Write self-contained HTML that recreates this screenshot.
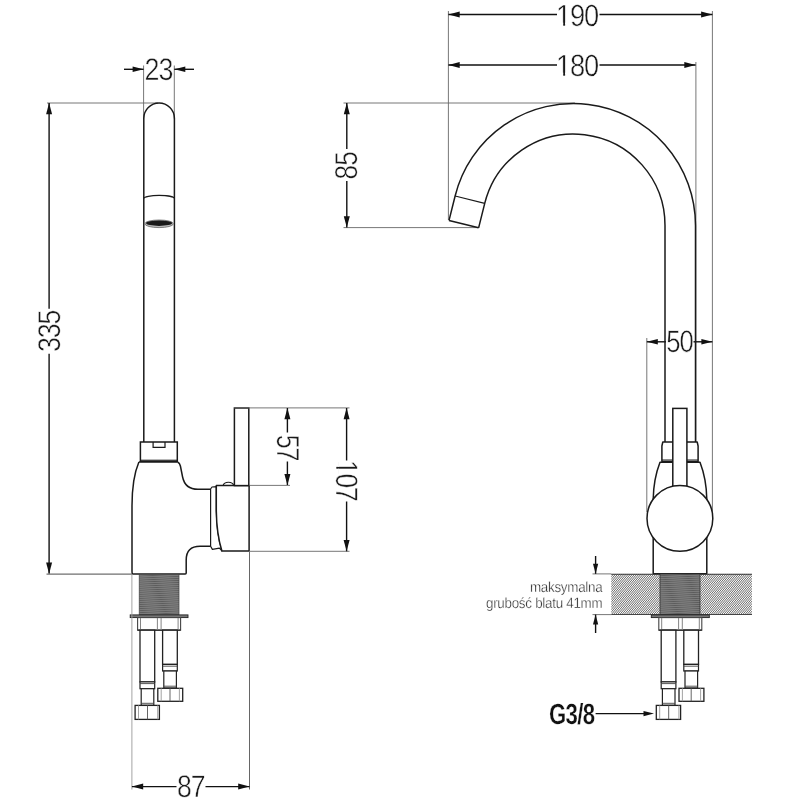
<!DOCTYPE html><html><head><meta charset="utf-8"><title>Wymiary baterii</title>
<style>html,body{margin:0;padding:0;background:#fff}svg{display:block;will-change:transform}text{font-family:"Liberation Sans",sans-serif;text-rendering:geometricPrecision}</style></head><body>
<svg width="800" height="800" viewBox="0 0 800 800">
<defs>
<pattern id="thr" width="40" height="2.03" patternUnits="userSpaceOnUse" patternTransform="rotate(-2.5)"><rect width="40" height="2.03" fill="#868686"/><line x1="0" y1="1" x2="40" y2="1" stroke="#5c5c5c" stroke-width="1"/></pattern>
</defs>
<rect width="800" height="800" fill="#fff"/>
<line x1="47" y1="103" x2="158" y2="103" stroke="#686868" stroke-width="0.9"/>
<line x1="46.5" y1="574.1" x2="132" y2="574.1" stroke="#4a4a4a" stroke-width="1.0"/>
<line x1="143.6" y1="65.5" x2="143.6" y2="119" stroke="#686868" stroke-width="0.9"/>
<line x1="174.3" y1="65.5" x2="174.3" y2="119" stroke="#686868" stroke-width="0.9"/>
<line x1="124" y1="69.3" x2="143.6" y2="69.3" stroke="#111" stroke-width="1.4"/>
<polygon points="143.60,69.30 132.60,72.05 132.60,66.55" fill="#111"/>
<line x1="174.3" y1="69.3" x2="194" y2="69.3" stroke="#111" stroke-width="1.4"/>
<polygon points="174.30,69.30 185.30,66.55 185.30,72.05" fill="#111"/>
<g transform="translate(144.60,79.94) rotate(0) scale(0.8662,1)">
<text font-size="31.07" font-weight="normal" fill="#1a1a1a" letter-spacing="-1.3" stroke="#fff" stroke-width="0.5">23</text>
</g>
<line x1="49.1" y1="103" x2="49.1" y2="308.8" stroke="#111" stroke-width="1.4"/>
<line x1="49.1" y1="353.8" x2="49.1" y2="573.6" stroke="#111" stroke-width="1.4"/>
<polygon points="49.10,103.00 52.10,114.30 46.10,114.30" fill="#111"/>
<polygon points="49.10,573.80 46.10,562.50 52.10,562.50" fill="#111"/>
<g transform="translate(59.94,352.02) rotate(-90) scale(0.8503,1)">
<text font-size="31.43" font-weight="normal" fill="#1a1a1a" letter-spacing="-1.3" stroke="#fff" stroke-width="0.5">335</text>
</g>
<path d="M143.8,442 V118.3 A15.3,15.3 0 0 1 174.4,118.3 V442" stroke="#1a1a1a" stroke-width="1.5" fill="none" />
<path d="M143.8,198.6 A15.3,3.2 0 0 1 174.4,198.6" stroke="#1a1a1a" stroke-width="1.2" fill="none" />
<ellipse cx="159.1" cy="223.8" rx="14.3" ry="3.8" fill="#bbb" stroke="#666" stroke-width="0.8"/>
<ellipse cx="159.1" cy="223.2" rx="13" ry="2.7" fill="#1a1a1a"/>
<rect x="140.4" y="442" width="36.9" height="19.3" stroke="#1a1a1a" stroke-width="1.5" fill="#fff"/>
<line x1="140.4" y1="460.2" x2="177.3" y2="460.2" stroke="#1a1a1a" stroke-width="1.0"/>
<path d="M153.1,442 V447.3 H165 V442" stroke="#1a1a1a" stroke-width="1.2" fill="none" />
<path d="M138.9,462 C135.5,470 132,484 132,506 V571.3 Q132,574 133,574 H185.2 Q186.2,574 186.2,573 V560 C186.2,551 191,546.2 200,546.2 H210.6 M210.6,489.3 H198 C188,489.3 184,484 182.6,477 L180.4,466 Q179.8,463 177.5,462" stroke="#1a1a1a" stroke-width="1.5" fill="none" stroke-linejoin="round"/>
<line x1="138.9" y1="462" x2="177.5" y2="462" stroke="#1a1a1a" stroke-width="1.5"/>
<path d="M210.6,489 L212,487 L216.3,486.6 V511 C216.5,528 218.5,540 221.9,550.8 L219.4,548.2 L212.4,549.4 L210.6,546.2 Z" stroke="#1a1a1a" stroke-width="1.2" fill="#fff" stroke-linejoin="round"/>
<path d="M216.3,485.6 H249.1 V551 H221.9 C218.5,540 216.5,528 216.3,511 Z" stroke="#1a1a1a" stroke-width="1.5" fill="#fff" stroke-linejoin="round"/>
<rect x="234.4" y="408" width="14.4" height="77.6" stroke="#1a1a1a" stroke-width="1.5" fill="#fff"/>
<path d="M223,485.6 Q224,482.3 228.4,482.3 Q232.8,482.3 233.8,485.6" stroke="#1a1a1a" stroke-width="1.1" fill="none" />
<rect x="139.2" y="574.4" width="39.8" height="40.4" stroke="#444" stroke-width="0.7" fill="url(#thr)"/>
<rect x="130.2" y="614.9" width="57.8" height="2.7" stroke="#222" stroke-width="0.9" fill="#777"/>
<rect x="137.6" y="617.6" width="43" height="12.6" stroke="#444" stroke-width="1.1" fill="#fff"/>
<line x1="137.6" y1="630.2" x2="180.6" y2="630.2" stroke="#222" stroke-width="1.2"/>
<line x1="140.5" y1="618" x2="140.5" y2="630" stroke="#777" stroke-width="0.9"/>
<line x1="157.4" y1="618" x2="157.4" y2="630" stroke="#777" stroke-width="0.9"/>
<line x1="161.1" y1="618" x2="161.1" y2="630" stroke="#777" stroke-width="0.9"/>
<line x1="178.1" y1="618" x2="178.1" y2="630" stroke="#777" stroke-width="0.9"/>
<rect x="140" y="630.2" width="14.7" height="51.7" stroke="#222" stroke-width="1.3" fill="#fff"/>
<rect x="140" y="681.9" width="14.7" height="6.8" stroke="#222" stroke-width="1.2" fill="#fff"/>
<line x1="140" y1="683.6" x2="154.7" y2="683.6" stroke="#444" stroke-width="0.9"/>
<rect x="141.2" y="688.7" width="12.6" height="16.6" stroke="#222" stroke-width="1.2" fill="#fff"/>
<line x1="141.2" y1="703.3" x2="153.8" y2="703.3" stroke="#444" stroke-width="0.9"/>
<rect x="135.1" y="705.4" width="24.3" height="14" stroke="#222" stroke-width="1.3" fill="#fff"/>
<line x1="147.5" y1="705.4" x2="147.5" y2="719.4" stroke="#555" stroke-width="0.9"/>
<line x1="138.5" y1="705.4" x2="138.5" y2="719.4" stroke="#999" stroke-width="0.9"/>
<line x1="157.7" y1="705.4" x2="157.7" y2="719.4" stroke="#999" stroke-width="0.9"/>
<rect x="162.6" y="630.2" width="14.7" height="34.2" stroke="#222" stroke-width="1.3" fill="#fff"/>
<rect x="162.6" y="664.4" width="14.7" height="6.6" stroke="#222" stroke-width="1.2" fill="#fff"/>
<line x1="162.6" y1="666.2" x2="177.3" y2="666.2" stroke="#444" stroke-width="0.9"/>
<rect x="163.8" y="671" width="12.6" height="17" stroke="#222" stroke-width="1.2" fill="#fff"/>
<line x1="163.8" y1="686.2" x2="176.4" y2="686.2" stroke="#444" stroke-width="0.9"/>
<rect x="157.8" y="688.3" width="24.9" height="13" stroke="#222" stroke-width="1.3" fill="#fff"/>
<line x1="170" y1="688.3" x2="170" y2="701.3" stroke="#555" stroke-width="0.9"/>
<line x1="161.2" y1="688.3" x2="161.2" y2="701.3" stroke="#999" stroke-width="0.9"/>
<line x1="179.4" y1="688.3" x2="179.4" y2="701.3" stroke="#999" stroke-width="0.9"/>
<line x1="131.9" y1="575" x2="131.9" y2="789.5" stroke="#999" stroke-width="0.9"/>
<line x1="249.5" y1="551.7" x2="249.5" y2="789.5" stroke="#555" stroke-width="0.9"/>
<line x1="131.9" y1="786.6" x2="176.5" y2="786.6" stroke="#111" stroke-width="1.4"/>
<line x1="205.5" y1="786.6" x2="249.5" y2="786.6" stroke="#111" stroke-width="1.4"/>
<polygon points="131.90,786.60 143.20,783.60 143.20,789.60" fill="#111"/>
<polygon points="249.50,786.60 238.20,789.60 238.20,783.60" fill="#111"/>
<g transform="translate(177.11,796.94) rotate(0) scale(0.8563,1)">
<text font-size="31.07" font-weight="normal" fill="#1a1a1a" letter-spacing="-1.3" stroke="#fff" stroke-width="0.5">87</text>
</g>
<line x1="234" y1="407.9" x2="349.5" y2="407.9" stroke="#686868" stroke-width="0.9"/>
<line x1="249.2" y1="485.4" x2="290" y2="485.4" stroke="#686868" stroke-width="0.9"/>
<line x1="249.2" y1="551.3" x2="349.5" y2="551.3" stroke="#686868" stroke-width="0.9"/>
<line x1="287.4" y1="408" x2="287.4" y2="432.5" stroke="#111" stroke-width="1.4"/>
<line x1="287.4" y1="461.5" x2="287.4" y2="485" stroke="#111" stroke-width="1.4"/>
<polygon points="287.40,408.00 290.40,419.30 284.40,419.30" fill="#111"/>
<polygon points="287.40,485.30 284.40,474.00 290.40,474.00" fill="#111"/>
<g transform="translate(277.07,434.75) rotate(90) scale(0.7851,1)">
<text font-size="31.81" font-weight="normal" fill="#1a1a1a" letter-spacing="-1.3" stroke="#fff" stroke-width="0.5">57</text>
</g>
<line x1="346.6" y1="408" x2="346.6" y2="460.5" stroke="#111" stroke-width="1.4"/>
<line x1="346.6" y1="501.5" x2="346.6" y2="551.3" stroke="#111" stroke-width="1.4"/>
<polygon points="346.60,408.00 349.60,419.30 343.60,419.30" fill="#111"/>
<polygon points="346.60,551.30 343.60,540.00 349.60,540.00" fill="#111"/>
<g transform="translate(335.81,460.00) rotate(90) scale(0.8505,1)">
<text font-size="31.00" font-weight="normal" fill="#1a1a1a" letter-spacing="-1.3" stroke="#fff" stroke-width="0.5">107</text>
<rect x="1.36" y="-2.92" width="6.73" height="3.72" fill="#fff"/>
<rect x="10.24" y="-2.92" width="6.49" height="3.72" fill="#fff"/>
</g>
<line x1="448.4" y1="11" x2="448.4" y2="220" stroke="#686868" stroke-width="0.9"/>
<line x1="712.4" y1="11" x2="712.4" y2="512" stroke="#686868" stroke-width="0.9"/>
<line x1="695.9" y1="62" x2="695.9" y2="442" stroke="#686868" stroke-width="0.9"/>
<line x1="343.5" y1="103" x2="575" y2="103" stroke="#686868" stroke-width="0.9"/>
<line x1="343.5" y1="227.6" x2="478" y2="227.6" stroke="#686868" stroke-width="0.9"/>
<line x1="646.8" y1="338" x2="646.8" y2="512" stroke="#686868" stroke-width="0.9"/>
<line x1="448.4" y1="14.5" x2="557" y2="14.5" stroke="#111" stroke-width="1.4"/>
<line x1="599.5" y1="14.5" x2="712.4" y2="14.5" stroke="#111" stroke-width="1.4"/>
<polygon points="448.40,14.50 459.70,11.50 459.70,17.50" fill="#111"/>
<polygon points="712.40,14.50 701.10,17.50 701.10,11.50" fill="#111"/>
<g transform="translate(556.08,25.54) rotate(0) scale(0.8905,1)">
<text font-size="30.65" font-weight="normal" fill="#1a1a1a" letter-spacing="-1.3" stroke="#fff" stroke-width="0.5">190</text>
<rect x="1.33" y="-2.89" width="6.65" height="3.69" fill="#fff"/>
<rect x="10.14" y="-2.89" width="6.41" height="3.69" fill="#fff"/>
</g>
<line x1="448.4" y1="65" x2="557" y2="65" stroke="#111" stroke-width="1.4"/>
<line x1="599.5" y1="65" x2="695.6" y2="65" stroke="#111" stroke-width="1.4"/>
<polygon points="448.40,65.00 459.70,62.00 459.70,68.00" fill="#111"/>
<polygon points="695.60,65.00 684.30,68.00 684.30,62.00" fill="#111"/>
<g transform="translate(556.08,75.54) rotate(0) scale(0.8905,1)">
<text font-size="30.65" font-weight="normal" fill="#1a1a1a" letter-spacing="-1.3" stroke="#fff" stroke-width="0.5">180</text>
<rect x="1.33" y="-2.89" width="6.65" height="3.69" fill="#fff"/>
<rect x="10.14" y="-2.89" width="6.41" height="3.69" fill="#fff"/>
</g>
<line x1="346.8" y1="103" x2="346.8" y2="149" stroke="#111" stroke-width="1.4"/>
<line x1="346.8" y1="181" x2="346.8" y2="227.6" stroke="#111" stroke-width="1.4"/>
<polygon points="346.80,103.00 349.80,114.30 343.80,114.30" fill="#111"/>
<polygon points="346.80,227.60 343.80,216.30 349.80,216.30" fill="#111"/>
<g transform="translate(357.23,179.38) rotate(-90) scale(0.8327,1)">
<text font-size="31.64" font-weight="normal" fill="#1a1a1a" letter-spacing="-1.3" stroke="#fff" stroke-width="0.5">85</text>
</g>
<line x1="646.8" y1="341.8" x2="666" y2="341.8" stroke="#111" stroke-width="1.4"/>
<line x1="693.5" y1="341.8" x2="712.4" y2="341.8" stroke="#111" stroke-width="1.4"/>
<polygon points="646.80,341.80 657.80,339.05 657.80,344.55" fill="#111"/>
<polygon points="712.40,341.80 701.40,344.55 701.40,339.05" fill="#111"/>
<path d="M449.03,220.44 L455.12,195.99 A122,122 0 0 1 695.5,225.5 V442" stroke="#1a1a1a" stroke-width="1.5" fill="none" />
<path d="M478.62,227.82 L484.72,203.36 A91.5,91.5 0 0 1 665.0,225.5 V442" stroke="#1a1a1a" stroke-width="1.5" fill="none" />
<line x1="455.1239213943284" y1="195.98552873684056" x2="484.71794104574633" y2="203.36414655263042" stroke="#1a1a1a" stroke-width="1.1"/>
<line x1="449.0274896252168" y1="220.43698103899567" x2="478.6215092766347" y2="227.81559885478552" stroke="#1a1a1a" stroke-width="1.5"/>
<g transform="translate(666.22,351.94) rotate(0) scale(0.8271,1)">
<text font-size="31.07" font-weight="normal" fill="#1a1a1a" letter-spacing="-1.3" stroke="#fff" stroke-width="0.5">50</text>
</g>
<path d="M662.8,442 H697.2 L698.1,446 V461.4 H661.9 V446 Z" stroke="#1a1a1a" stroke-width="1.5" fill="#fff" stroke-linejoin="round"/>
<line x1="661.9" y1="460" x2="698.1" y2="460" stroke="#1a1a1a" stroke-width="1.0"/>
<path d="M660,462.2 C657,470 653.5,482 653.2,499 V573.7 H706.8 V499 C706.5,482 703,470 700,462.2 Z" stroke="#1a1a1a" stroke-width="1.5" fill="#fff" stroke-linejoin="round"/>
<rect x="672.8" y="408.4" width="14.1" height="82" stroke="#1a1a1a" stroke-width="1.5" fill="#fff"/>
<circle cx="679.9" cy="518.4" r="32.9" fill="#fff" stroke="#1a1a1a" stroke-width="1.5"/>
<clipPath id="ctop"><rect x="611.3" y="574" width="140.6" height="40.6"/></clipPath>
<g clip-path="url(#ctop)" stroke="#555" stroke-width="0.88">
<path d="M575.23,614.6 L609.30,574 M577.35,614.6 L611.42,574 M579.47,614.6 L613.54,574 M581.59,614.6 L615.66,574 M583.71,614.6 L617.78,574 M585.83,614.6 L619.90,574 M587.95,614.6 L622.02,574 M590.07,614.6 L624.14,574 M592.19,614.6 L626.26,574 M594.31,614.6 L628.38,574 M596.43,614.6 L630.50,574 M598.55,614.6 L632.62,574 M600.67,614.6 L634.74,574 M602.79,614.6 L636.86,574 M604.91,614.6 L638.98,574 M607.03,614.6 L641.10,574 M609.15,614.6 L643.22,574 M611.27,614.6 L645.34,574 M613.39,614.6 L647.46,574 M615.51,614.6 L649.58,574 M617.63,614.6 L651.70,574 M619.75,614.6 L653.82,574 M621.87,614.6 L655.94,574 M623.99,614.6 L658.06,574 M626.11,614.6 L660.18,574 M628.23,614.6 L662.30,574 M630.35,614.6 L664.42,574 M632.47,614.6 L666.54,574 M634.59,614.6 L668.66,574 M636.71,614.6 L670.78,574 M638.83,614.6 L672.90,574 M640.95,614.6 L675.02,574 M643.07,614.6 L677.14,574 M645.19,614.6 L679.26,574 M647.31,614.6 L681.38,574 M649.43,614.6 L683.50,574 M651.55,614.6 L685.62,574 M653.67,614.6 L687.74,574 M655.79,614.6 L689.86,574 M657.91,614.6 L691.98,574 M660.03,614.6 L694.10,574 M662.15,614.6 L696.22,574 M664.27,614.6 L698.34,574 M666.39,614.6 L700.46,574 M668.51,614.6 L702.58,574 M670.63,614.6 L704.70,574 M672.75,614.6 L706.82,574 M674.87,614.6 L708.94,574 M676.99,614.6 L711.06,574 M679.11,614.6 L713.18,574 M681.23,614.6 L715.30,574 M683.35,614.6 L717.42,574 M685.47,614.6 L719.54,574 M687.59,614.6 L721.66,574 M689.71,614.6 L723.78,574 M691.83,614.6 L725.90,574 M693.95,614.6 L728.02,574 M696.07,614.6 L730.14,574 M698.19,614.6 L732.26,574 M700.31,614.6 L734.38,574 M702.43,614.6 L736.50,574 M704.55,614.6 L738.62,574 M706.67,614.6 L740.74,574 M708.79,614.6 L742.86,574 M710.91,614.6 L744.98,574 M713.03,614.6 L747.10,574 M715.15,614.6 L749.22,574 M717.27,614.6 L751.34,574 M719.39,614.6 L753.46,574 M721.51,614.6 L755.58,574 M723.63,614.6 L757.70,574 M725.75,614.6 L759.82,574 M727.87,614.6 L761.94,574 M729.99,614.6 L764.06,574 M732.11,614.6 L766.18,574 M734.23,614.6 L768.30,574 M736.35,614.6 L770.42,574 M738.47,614.6 L772.54,574 M740.59,614.6 L774.66,574 M742.71,614.6 L776.78,574 M744.83,614.6 L778.90,574 M746.95,614.6 L781.02,574 M749.07,614.6 L783.14,574 M751.19,614.6 L785.26,574" fill="none"/>
</g>
<line x1="592.5" y1="573.9" x2="611.3" y2="573.9" stroke="#686868" stroke-width="0.9"/>
<line x1="592.5" y1="614.6" x2="611.3" y2="614.6" stroke="#686868" stroke-width="0.9"/>
<line x1="611.3" y1="574.2" x2="752" y2="574.2" stroke="#333" stroke-width="1.1"/>
<line x1="611.3" y1="614.5" x2="752" y2="614.5" stroke="#444" stroke-width="1.0"/>
<rect x="660" y="574" width="40" height="40.5" stroke="#333" stroke-width="0.8" fill="url(#thr)"/>
<rect x="651.3" y="614.9" width="58" height="2.7" stroke="#222" stroke-width="0.9" fill="#777"/>
<rect x="658.8000000000001" y="617.6" width="43" height="12.6" stroke="#444" stroke-width="1.1" fill="#fff"/>
<line x1="658.8000000000001" y1="630.2" x2="701.8000000000001" y2="630.2" stroke="#222" stroke-width="1.2"/>
<line x1="661.7" y1="618" x2="661.7" y2="630" stroke="#777" stroke-width="0.9"/>
<line x1="678.6" y1="618" x2="678.6" y2="630" stroke="#777" stroke-width="0.9"/>
<line x1="682.3000000000001" y1="618" x2="682.3000000000001" y2="630" stroke="#777" stroke-width="0.9"/>
<line x1="699.3000000000001" y1="618" x2="699.3000000000001" y2="630" stroke="#777" stroke-width="0.9"/>
<rect x="661.2" y="630.2" width="14.7" height="51.7" stroke="#222" stroke-width="1.3" fill="#fff"/>
<rect x="661.2" y="681.9" width="14.7" height="6.8" stroke="#222" stroke-width="1.2" fill="#fff"/>
<line x1="661.2" y1="683.6" x2="675.9000000000001" y2="683.6" stroke="#444" stroke-width="0.9"/>
<rect x="662.4000000000001" y="688.7" width="12.6" height="16.6" stroke="#222" stroke-width="1.2" fill="#fff"/>
<line x1="662.4000000000001" y1="703.3" x2="675.0" y2="703.3" stroke="#444" stroke-width="0.9"/>
<rect x="656.3000000000001" y="705.4" width="24.3" height="14" stroke="#222" stroke-width="1.3" fill="#fff"/>
<line x1="668.7" y1="705.4" x2="668.7" y2="719.4" stroke="#555" stroke-width="0.9"/>
<line x1="659.7" y1="705.4" x2="659.7" y2="719.4" stroke="#999" stroke-width="0.9"/>
<line x1="678.9000000000001" y1="705.4" x2="678.9000000000001" y2="719.4" stroke="#999" stroke-width="0.9"/>
<rect x="683.8000000000001" y="630.2" width="14.7" height="34.2" stroke="#222" stroke-width="1.3" fill="#fff"/>
<rect x="683.8000000000001" y="664.4" width="14.7" height="6.6" stroke="#222" stroke-width="1.2" fill="#fff"/>
<line x1="683.8000000000001" y1="666.2" x2="698.5" y2="666.2" stroke="#444" stroke-width="0.9"/>
<rect x="685.0" y="671" width="12.6" height="17" stroke="#222" stroke-width="1.2" fill="#fff"/>
<line x1="685.0" y1="686.2" x2="697.6" y2="686.2" stroke="#444" stroke-width="0.9"/>
<rect x="679.0" y="688.3" width="24.9" height="13" stroke="#222" stroke-width="1.3" fill="#fff"/>
<line x1="691.2" y1="688.3" x2="691.2" y2="701.3" stroke="#555" stroke-width="0.9"/>
<line x1="682.4000000000001" y1="688.3" x2="682.4000000000001" y2="701.3" stroke="#999" stroke-width="0.9"/>
<line x1="700.6" y1="688.3" x2="700.6" y2="701.3" stroke="#999" stroke-width="0.9"/>
<line x1="595.6" y1="556" x2="595.6" y2="573.8" stroke="#111" stroke-width="1.4"/>
<polygon points="595.60,573.80 593.00,563.80 598.20,563.80" fill="#111"/>
<line x1="595.6" y1="614.6" x2="595.6" y2="633" stroke="#111" stroke-width="1.4"/>
<polygon points="595.60,614.60 598.20,624.60 593.00,624.60" fill="#111"/>
<text transform="translate(602.4,591.7) rotate(0) scale(0.905,1)" font-size="14.8" font-weight="normal" text-anchor="end" fill="#222" letter-spacing="-0.3" stroke="#fff" stroke-width="0.35">maksymalna</text>
<text transform="translate(602.4,608.1) rotate(0) scale(0.905,1)" font-size="14.8" font-weight="normal" text-anchor="end" fill="#222" letter-spacing="-0.3" stroke="#fff" stroke-width="0.35">grubość blatu 41mm</text>
<g transform="translate(548.94,724.26) rotate(0) scale(0.7618,1)">
<text font-size="29.13" font-weight="bold" fill="#111" letter-spacing="-0.8" stroke="#fff" stroke-width="0.3">G3/8</text>
</g>
<line x1="595.6" y1="713.6" x2="645" y2="713.6" stroke="#111" stroke-width="1.1"/>
<polygon points="654.00,713.60 643.50,716.30 643.50,710.90" fill="#111"/>
</svg></body></html>
